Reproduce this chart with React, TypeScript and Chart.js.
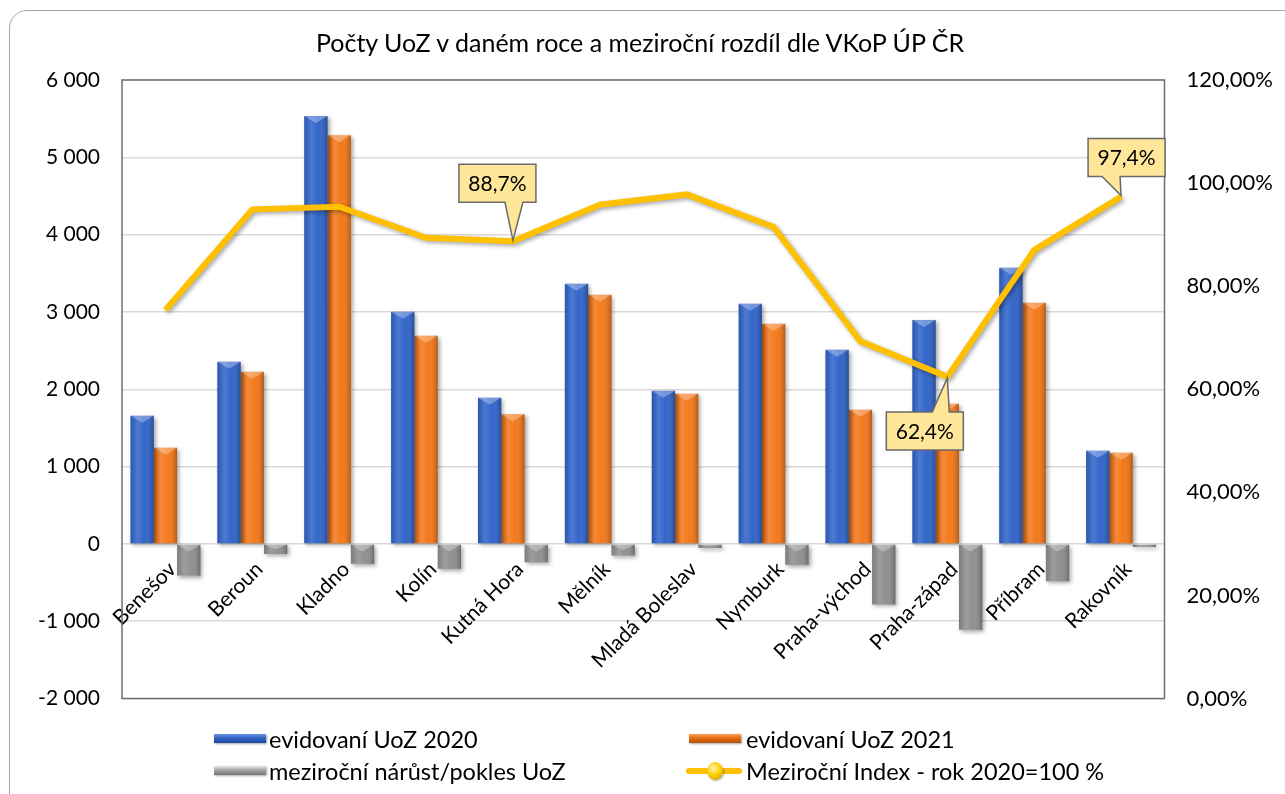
import React, { useEffect, useRef } from "react";
import { Chart, registerables } from "chart.js";

Chart.register(...registerables);

const TITLE = "Počty UoZ v daném roce a meziroční rozdíl dle VKoP ÚP ČR";
const categories = [
  "Benešov",
  "Beroun",
  "Kladno",
  "Kolín",
  "Kutná Hora",
  "Mělník",
  "Mladá Boleslav",
  "Nymburk",
  "Praha-východ",
  "Praha-západ",
  "Příbram",
  "Rakovník",
];
const uoz2020 = [1658, 2355, 5533, 3002, 1890, 3363, 1981, 3105, 2510, 2897, 3572, 1206];
const uoz2021 = [1244, 2227, 5284, 2692, 1676, 3221, 1942, 2847, 1735, 1814, 3118, 1180];
const diffUoz = [-410, -130, -258, -323, -237, -151, -52, -271, -784, -1111, -483, -40];
const indexPct = [75.4, 94.9, 95.4, 89.4, 88.7, 95.8, 97.8, 91.5, 69.3, 62.4, 87.0, 97.4];
const leftTicks = [-2000, -1000, 0, 1000, 2000, 3000, 4000, 5000, 6000];
const rightTicks = [0, 20, 40, 60, 80, 100, 120];
const labeledPoints = [4, 9, 11];

const seriesNames = [
  "evidovaní UoZ 2020",
  "evidovaní UoZ 2021",
  "meziroční nárůst/pokles UoZ",
  "Meziroční Index - rok 2020=100 %",
];

const FONT = "Lato, 'Open Sans', sans-serif";

// callout geometry (styling): box offset relative to the data point, pointer base range
const calloutStyle: Record<number, { dx: number; dy: number; w: number; h: number; b0: number; b1: number }> = {
  4: { dx: -54, dy: -77, w: 77, h: 38, b0: -8, b1: 10 },
  9: { dx: -61, dy: 35, w: 77, h: 38, b0: -15, b1: 2 },
  11: { dx: -33, dy: -58, w: 77, h: 38, b0: -19, b1: -1 },
};

const fmtThousands = (v: number) => {
  const s = String(Math.abs(v)).replace(/\B(?=(\d{3})+(?!\d))/g, " ");
  return (v < 0 ? "-" : "") + s;
};
const fmtPct2 = (v: number) => v.toFixed(2).replace(".", ",") + "%";
const fmtPct1 = (v: number) => v.toFixed(1).replace(".", ",") + "%";

const effectsPlugin = {
  id: "effects",
  beforeDatasetsDraw(chart: any) {
    const { ctx, chartArea: a } = chart;
    ctx.save();
    ctx.strokeStyle = "#6f6f6f";
    ctx.lineWidth = 1.5;
    ctx.strokeRect(a.left, a.top, a.right - a.left, a.bottom - a.top);
    ctx.restore();
  },
  beforeDatasetDraw(chart: any) {
    const ctx = chart.ctx;
    ctx.save();
    ctx.shadowColor = "rgba(0,0,0,0.35)";
    ctx.shadowBlur = 4;
    ctx.shadowOffsetX = 2;
    ctx.shadowOffsetY = 2;
  },
  afterDatasetDraw(chart: any, args: any) {
    const ctx = chart.ctx;
    ctx.restore();
    const meta = args.meta;
    if (meta.type !== "bar") return;
    meta.data.forEach((el: any) => {
      const w = el.width;
      const l = el.x - w / 2;
      const r = el.x + w / 2;
      const top = Math.min(el.y, el.base);
      const bot = Math.max(el.y, el.base);
      if (bot - top < 1) return;
      ctx.save();
      const g = ctx.createLinearGradient(l, 0, r, 0);
      g.addColorStop(0, "rgba(0,0,0,0.12)");
      g.addColorStop(0.3, "rgba(255,255,255,0.14)");
      g.addColorStop(0.6, "rgba(255,255,255,0.02)");
      g.addColorStop(1, "rgba(0,0,0,0.25)");
      ctx.fillStyle = g;
      ctx.fillRect(l, top, w, bot - top);
      const d = Math.min(w * 0.3, (bot - top) / 2);
      ctx.beginPath();
      ctx.moveTo(l, top);
      ctx.lineTo(r, top);
      ctx.lineTo(el.x, top + d);
      ctx.closePath();
      ctx.fillStyle = "rgba(255,255,255,0.3)";
      ctx.fill();
      ctx.restore();
    });
  },
  afterDatasetsDraw(chart: any) {
    const ctx = chart.ctx;
    const meta = chart.getDatasetMeta(3);
    labeledPoints.forEach((i) => {
      const p = meta.data[i];
      const s = calloutStyle[i];
      if (!p || !s) return;
      const px = p.x;
      const py = p.y;
      const L = px + s.dx;
      const T = py + s.dy;
      const R = L + s.w;
      const B = T + s.h;
      ctx.save();
      ctx.beginPath();
      if (s.dy < 0) {
        ctx.moveTo(L, T);
        ctx.lineTo(R, T);
        ctx.lineTo(R, B);
        ctx.lineTo(px + s.b1, B);
        ctx.lineTo(px, py - 1);
        ctx.lineTo(px + s.b0, B);
        ctx.lineTo(L, B);
      } else {
        ctx.moveTo(L, T);
        ctx.lineTo(px + s.b0, T);
        ctx.lineTo(px, py + 1);
        ctx.lineTo(px + s.b1, T);
        ctx.lineTo(R, T);
        ctx.lineTo(R, B);
        ctx.lineTo(L, B);
      }
      ctx.closePath();
      ctx.fillStyle = "#FFE699";
      ctx.fill();
      ctx.strokeStyle = "#6a6a6a";
      ctx.lineWidth = 1.5;
      ctx.stroke();
      ctx.fillStyle = "#000";
      ctx.font = `21px ${FONT}`;
      ctx.textAlign = "center";
      ctx.textBaseline = "middle";
      ctx.fillText(fmtPct1(indexPct[i]), (L + R) / 2, (T + B) / 2 + 1);
      ctx.restore();
    });
  },
};

export default function App() {
  const ref = useRef<HTMLCanvasElement | null>(null);

  useEffect(() => {
    if (!ref.current) return;
    const chart = new Chart(ref.current, {
      type: "bar",
      data: {
        labels: categories,
        datasets: [
          {
            type: "bar",
            label: seriesNames[0],
            data: uoz2020,
            backgroundColor: "#2F63C9",
            yAxisID: "y",
            order: 2,
            categoryPercentage: 0.805,
            barPercentage: 1,
          },
          {
            type: "bar",
            label: seriesNames[1],
            data: uoz2021,
            backgroundColor: "#F47718",
            yAxisID: "y",
            order: 2,
            categoryPercentage: 0.805,
            barPercentage: 1,
          },
          {
            type: "bar",
            label: seriesNames[2],
            data: diffUoz,
            backgroundColor: "#8E8E8E",
            yAxisID: "y",
            order: 2,
            categoryPercentage: 0.805,
            barPercentage: 1,
          },
          {
            type: "line",
            label: seriesNames[3],
            data: indexPct,
            borderColor: "#FFC000",
            borderWidth: 6,
            pointRadius: 0,
            tension: 0,
            yAxisID: "y1",
            order: 0,
          } as any,
        ],
      },
      options: {
        responsive: false,
        animation: false,
        layout: { padding: { top: 80, bottom: 95.5, left: 0, right: 0 } },
        plugins: {
          legend: { display: false },
          title: { display: false },
          tooltip: { enabled: false },
        },
        scales: {
          x: {
            type: "category",
            position: { y: 0 } as any,
            offset: true,
            grid: { display: false, drawTicks: false },
            border: { display: false },
            ticks: {
              autoSkip: false,
              maxRotation: 45,
              minRotation: 45,
              padding: 13,
              labelOffset: 7,
              color: "#000",
              font: { family: FONT, size: 21 },
            },
          },
          y: {
            position: "left",
            min: -2000,
            max: 6000,
            afterBuildTicks: (s: any) => {
              s.ticks = leftTicks.map((v) => ({ value: v }));
            },
            afterFit: (s: any) => {
              s.width = 122;
            },
            grid: { color: "#d9d9d9", lineWidth: 1.5, drawTicks: false },
            border: { display: false },
            ticks: {
              padding: 22,
              color: "#000",
              font: { family: FONT, size: 21 },
              callback: (v: any) => fmtThousands(Number(v)),
            },
          },
          y1: {
            position: "right",
            min: 0,
            max: 120,
            afterBuildTicks: (s: any) => {
              s.ticks = rightTicks.map((v) => ({ value: v }));
            },
            afterFit: (s: any) => {
              s.width = 120.5;
            },
            grid: { drawOnChartArea: false, drawTicks: false },
            border: { display: false },
            ticks: {
              padding: 22,
              color: "#000",
              font: { family: FONT, size: 22 },
              callback: (v: any) => fmtPct2(Number(v)),
            },
          },
        },
      },
      plugins: [effectsPlugin],
    });
    return () => chart.destroy();
  }, []);

  const legendText: React.CSSProperties = {
    position: "absolute",
    fontFamily: FONT,
    fontSize: 23.5,
    color: "#000",
    height: 30,
    lineHeight: "30px",
    whiteSpace: "nowrap",
  };
  const box = (bg: string): React.CSSProperties => ({
    position: "absolute",
    width: 52,
    height: 9,
    background: bg,
    boxShadow: "1px 1px 2px rgba(0,0,0,0.35)",
  });
  const row1 = 739;
  const row2 = 771;

  return (
    <div
      style={{
        position: "fixed",
        left: 0,
        top: 0,
        width: 1285,
        height: 794,
        overflow: "hidden",
        background: "#fff",
      }}
    >
      <div
        style={{
          position: "absolute",
          left: 9,
          top: 10,
          width: 1310,
          height: 820,
          border: "1px solid #a6a6a6",
          borderRadius: 18,
          boxSizing: "border-box",
        }}
      />
      <canvas ref={ref} width={1285} height={794} style={{ position: "absolute", left: 0, top: 0 }} />
      <div
        style={{
          position: "absolute",
          left: 0,
          width: 1280,
          top: 27,
          textAlign: "center",
          fontFamily: FONT,
          fontSize: 25,
          lineHeight: "30px",
          color: "#000",
        }}
      >
        {TITLE}
      </div>
      <div style={{ ...box("linear-gradient(#6b97e8, #2f63c6 45%, #1e479a)"), left: 214, top: row1 - 5 }} />
      <div style={{ ...legendText, left: 269, top: row1 - 15 }}>{seriesNames[0]}</div>
      <div style={{ ...box("linear-gradient(#f8a15c, #e86c10 45%, #b0520a)"), left: 689, top: row1 - 5 }} />
      <div style={{ ...legendText, left: 746, top: row1 - 15 }}>{seriesNames[1]}</div>
      <div style={{ ...box("linear-gradient(#e6e6e6, #a6a6a6 45%, #777)"), left: 214, top: row2 - 5 }} />
      <div style={{ ...legendText, left: 269, top: row2 - 15 }}>{seriesNames[2]}</div>
      <div
        style={{
          position: "absolute",
          left: 686,
          top: row2 - 3,
          width: 56,
          height: 6,
          background: "#FFC000",
          borderRadius: 3,
        }}
      />
      <div
        style={{
          position: "absolute",
          left: 707,
          top: row2 - 9,
          width: 16,
          height: 18,
          borderRadius: "50%",
          background: "radial-gradient(circle at 40% 35%, #fff6b0, #ffd000 45%, #c79200)",
          boxShadow: "1px 1px 2px rgba(0,0,0,0.35)",
        }}
      />
      <div style={{ ...legendText, left: 746, top: row2 - 15 }}>{seriesNames[3]}</div>
    </div>
  );
}
